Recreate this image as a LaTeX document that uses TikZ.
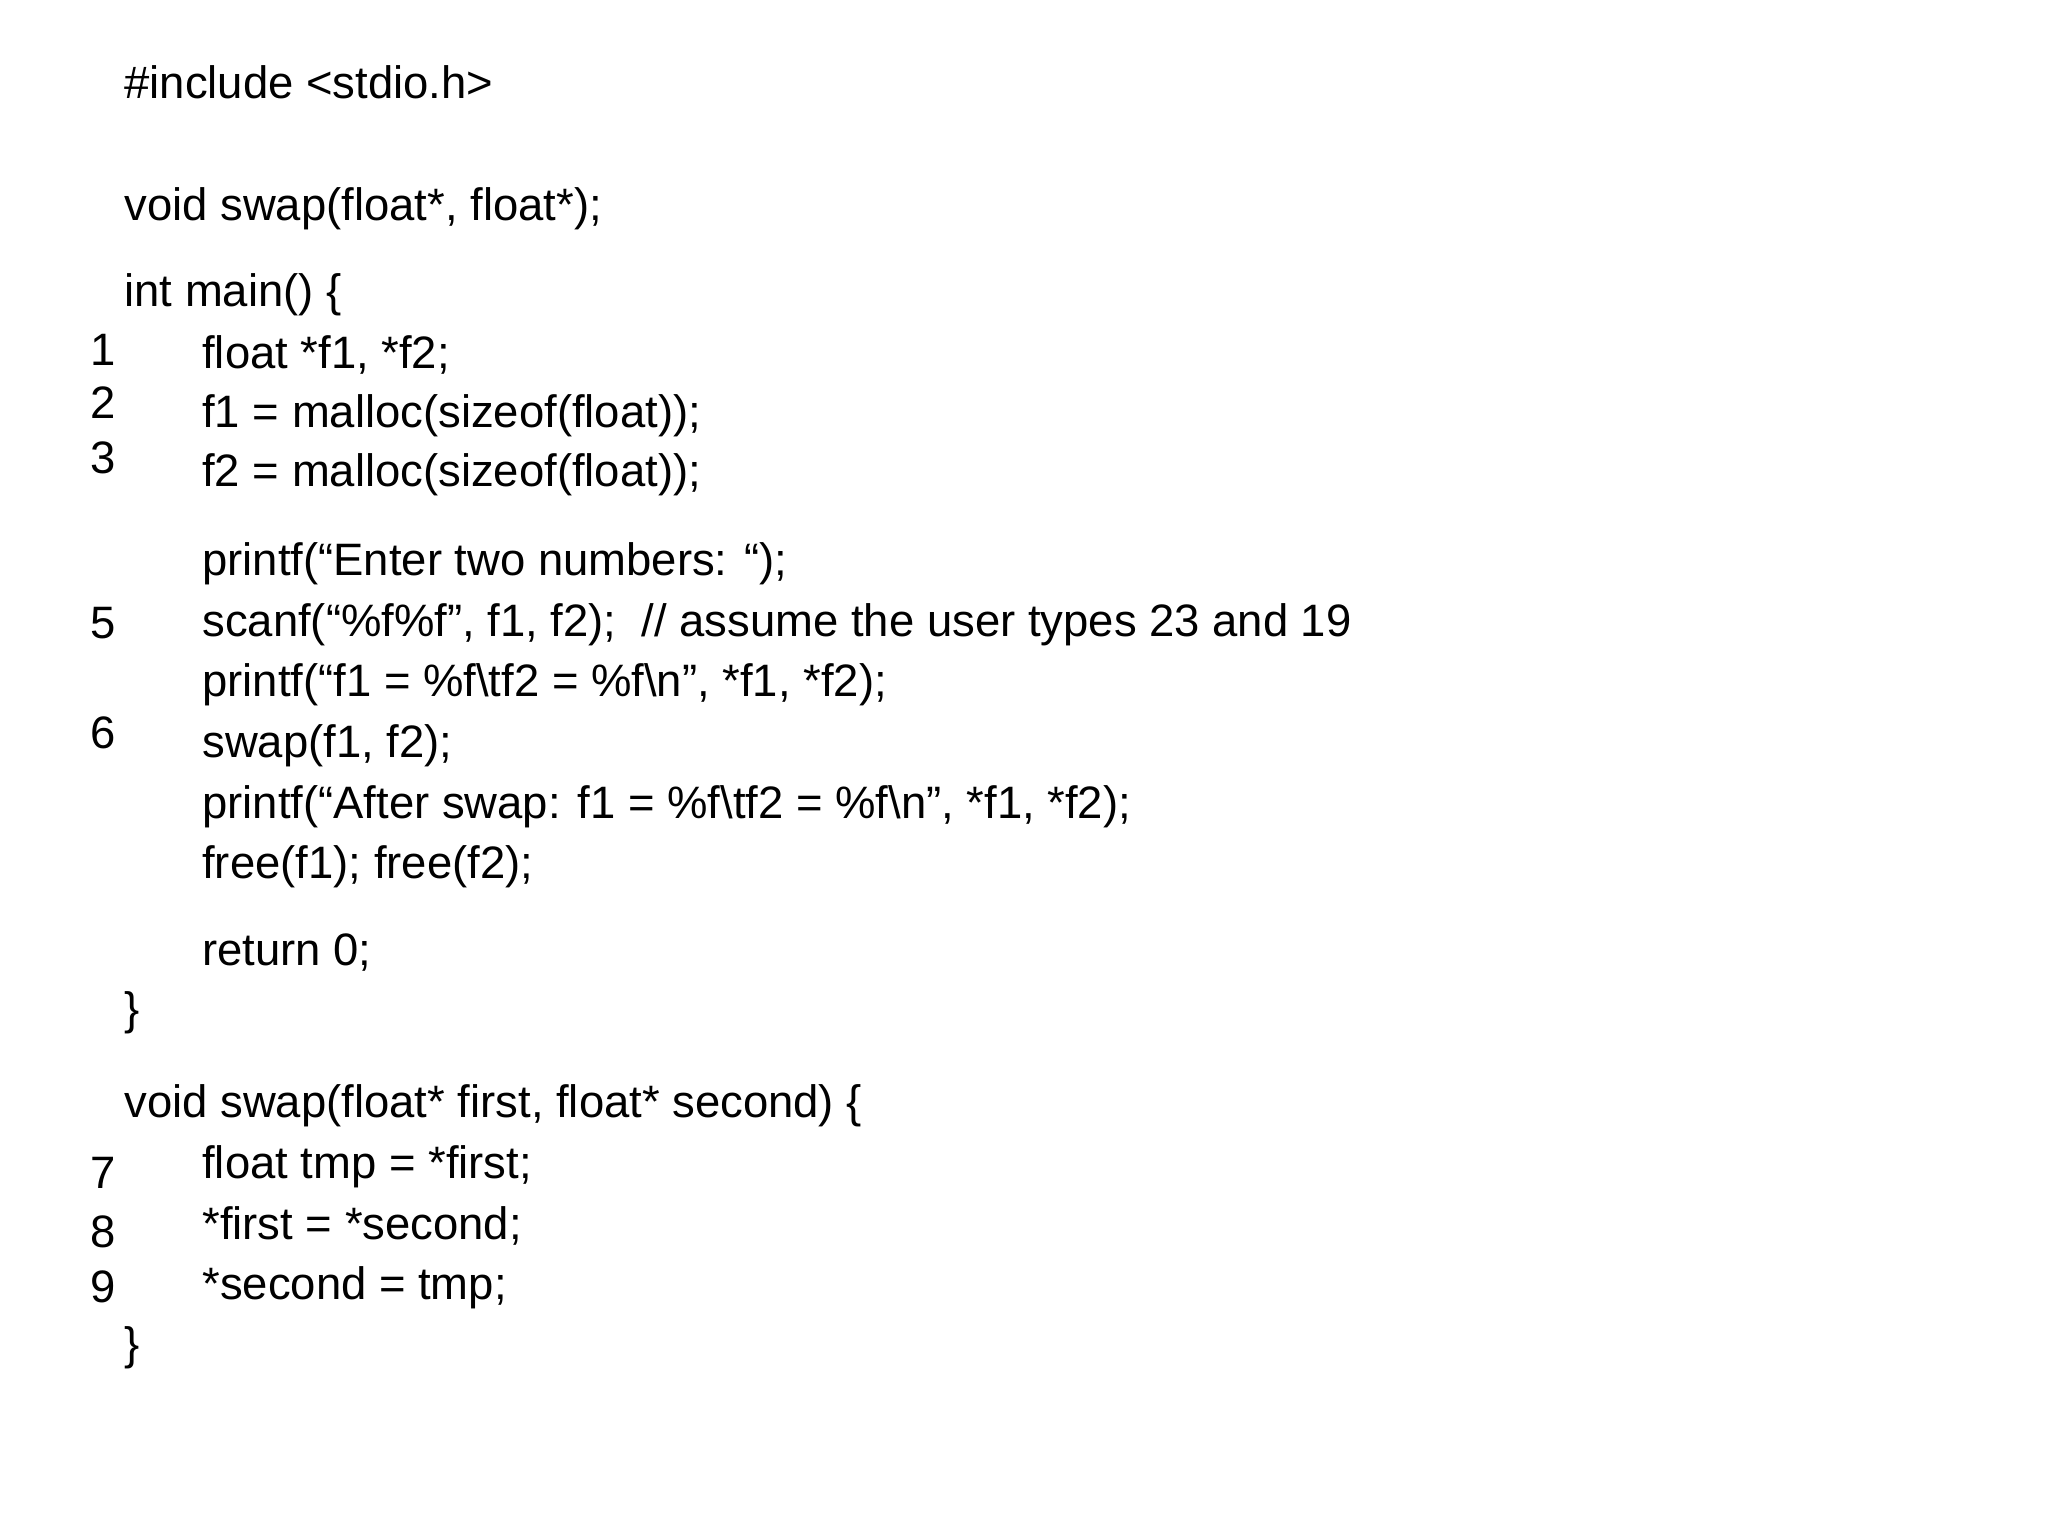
\documentclass[tikz,border=0pt]{standalone}
\usepackage{fontspec}
\setmainfont{Liberation Sans}
\begin{document}
\begin{tikzpicture}[x=0.02cm,y=-0.02cm,
  code/.style={anchor=base west,inner sep=0pt,font=\fontsize{19.6}{22}\selectfont},
  num/.style={anchor=base west,inner sep=0pt,font=\fontsize{19.6}{22}\selectfont}]
\useasboundingbox (0,0) rectangle (1552,1164);
\node[code] (l0) at (94,75) {\#include <stdio.h>};
\node[code] (l1) at (94,167) {void swap(float*, float*);};
\node[code] (l2) at (94,232) {int main() \{};
\node[code] (l3) at (153,279) {float *f1, *f2;};
\node[code] (l4) at (153,324) {f1 = malloc(sizeof(float));};
\node[code] (l5) at (153,369) {f2 = malloc(sizeof(float));};
\node[code] (l6) at (153,436) {printf(“Enter two numbers: “);};
\node[code] (l7) at (153,482) {scanf(“\%f\%f”, f1, f2);\ \ // assume the user types 23 and 19};
\node[code] (l8) at (153,528) {printf(“f1 = \%f\textbackslash tf2 = \%f\textbackslash n”, *f1, *f2);};
\node[code] (l9) at (153,574) {swap(f1, f2);};
\node[code] (l10) at (153,620) {printf(“After swap: f1 = \%f\textbackslash tf2 = \%f\textbackslash n”, *f1, *f2);};
\node[code] (l11) at (153,666) {free(f1); free(f2);};
\node[code] (l12) at (153,732) {return 0;};
\node[code] (l13) at (94,776) {\}};
\node[code] (l14) at (94,847) {void swap(float* first, float* second) \{};
\node[code] (l15) at (153,893) {float tmp = *first;};
\node[code] (l16) at (153,939) {*first = *second;};
\node[code] (l17) at (153,985) {*second = tmp;};
\node[code] (l18) at (94,1030) {\}};
\node[num] (n1) at (68,277) {1};
\node[num] (n2) at (68,317) {2};
\node[num] (n3) at (68,359) {3};
\node[num] (n5) at (68,484) {5};
\node[num] (n6) at (68,567) {6};
\node[num] (n7) at (68,901) {7};
\node[num] (n8) at (68,945) {8};
\node[num] (n9) at (68,987) {9};
\end{tikzpicture}
\end{document}
